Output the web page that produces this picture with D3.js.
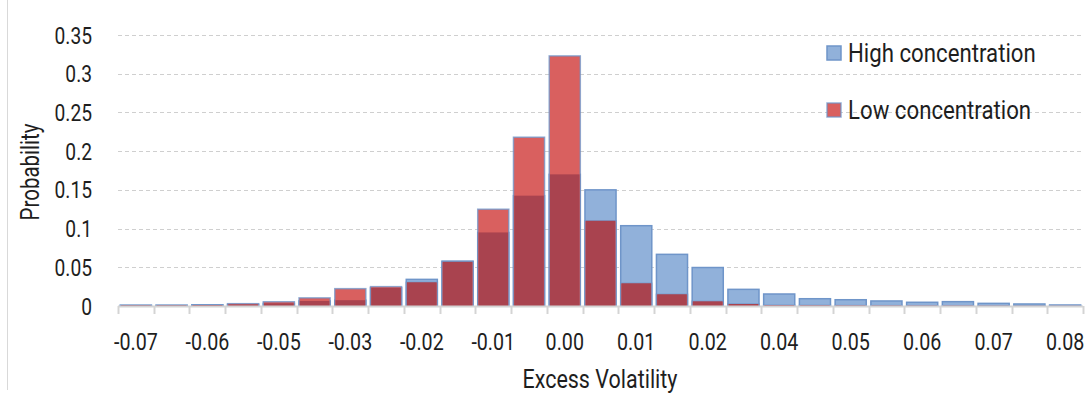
<!DOCTYPE html>
<html><head><meta charset="utf-8">
<script src="https://cdn.jsdelivr.net/npm/d3@7"></script>
<style>
body{margin:0;background:#fff;}
svg{display:block;}
text{font-family:"Roboto","Liberation Sans",sans-serif;fill:#1e1e1e;}
</style></head>
<body><svg id="c" width="1089" height="402"></svg>
<script>
const categories = ["-0.07","-0.065","-0.06","-0.055","-0.05","-0.04","-0.03","-0.025","-0.02","-0.015","-0.01","-0.005","0.00","0.005","0.01","0.015","0.02","0.03","0.04","0.045","0.05","0.055","0.06","0.065","0.07","0.075","0.08"];
const highConcentration = [0.001,0.001,0.0015,0.002,0.0035,0.0065,0.0075,0.0235,0.0344,0.058,0.095,0.1425,0.17,0.15,0.1037,0.0667,0.0497,0.0215,0.0155,0.0094,0.0081,0.0065,0.0048,0.0056,0.0034,0.0026,0.0013];
const lowConcentration = [0.0008,0.0008,0.0012,0.003,0.0055,0.0105,0.0224,0.025,0.0306,0.057,0.125,0.218,0.323,0.110,0.0293,0.0151,0.006,0.0026,0.001,0.0008,0.0006,0.0005,0.0004,0.0004,0.0003,0.0002,0.0002];
const yTicks = [0,0.05,0.1,0.15,0.2,0.25,0.3,0.35];
const yTickLabels = ["0","0.05","0.1","0.15","0.2","0.25","0.3","0.35"];
const seriesNames = ["High concentration","Low concentration"];

(function(){
const svg = d3.select("#c");
const mLeft = 118, mRight = 1083, mTop = 35, mBottom = 306;
const x = d3.scaleBand().domain(d3.range(categories.length)).range([mLeft,mRight]).paddingInner(0.13).paddingOuter(0.065);
const y = d3.scaleLinear().domain([0,0.35]).range([mBottom,mTop]);

const blueFill="#91b1da", blueStroke="#6f95c9", redFill="#d9605f", darkFill="#a9434f";

function label(parent, tx, ty, str, anchor, size, sx, rot){
  const g = parent.append("g").attr("transform",`translate(${tx},${ty})` + (rot?` rotate(${rot})`:"") + ` scale(${sx},1)`);
  g.append("text").attr("text-anchor",anchor).attr("font-size",size).text(str);
  return g;
}

svg.append("line").attr("x1",7.5).attr("x2",7.5).attr("y1",0).attr("y2",390).attr("stroke","#d9d9d9");

svg.append("g").selectAll("line").data(yTicks.filter(d=>d>0)).join("line")
  .attr("x1",mLeft).attr("x2",mRight).attr("y1",d=>Math.round(y(d))+0.5).attr("y2",d=>Math.round(y(d))+0.5)
  .attr("stroke","#cfcfcf").attr("stroke-dasharray","4,3");

const yl = svg.append("g");
yTicks.forEach((d,i)=>label(yl, 92, y(d)+8.5, yTickLabels[i], "end", 24, 0.8));

const idx = d3.range(categories.length);
svg.append("g").selectAll("rect").data(idx).join("rect")
  .attr("x",i=>x(i)).attr("width",x.bandwidth())
  .attr("y",i=>y(highConcentration[i])).attr("height",i=>mBottom-y(highConcentration[i]))
  .attr("fill",blueFill).attr("stroke",blueStroke).attr("stroke-width",1.5);
svg.append("g").selectAll("rect").data(idx).join("rect")
  .attr("x",i=>x(i)).attr("width",x.bandwidth())
  .attr("y",i=>y(lowConcentration[i])).attr("height",i=>mBottom-y(lowConcentration[i]))
  .attr("fill",redFill).attr("stroke","rgba(111,149,201,0.75)").attr("stroke-width",1.5);
svg.append("g").selectAll("rect").data(idx).join("rect")
  .attr("x",i=>x(i)+0.75).attr("width",x.bandwidth()-1.5)
  .attr("y",i=>y(Math.min(lowConcentration[i],highConcentration[i]))).attr("height",i=>Math.max(0,mBottom-y(Math.min(lowConcentration[i],highConcentration[i]))))
  .attr("fill",darkFill);

const step = x.step();
const xa = svg.append("g");
xa.append("line").attr("x1",mLeft).attr("x2",mRight).attr("y1",mBottom+0.5).attr("y2",mBottom+0.5).attr("stroke","#d4d4d4").attr("stroke-width",2);
xa.selectAll("line.t").data(d3.range(categories.length+1)).join("line").attr("class","t")
  .attr("x1",i=>Math.round(mLeft+i*step)+0.5).attr("x2",i=>Math.round(mLeft+i*step)+0.5)
  .attr("y1",mBottom).attr("y2",mBottom+8).attr("stroke","#d4d4d4").attr("stroke-width",2);
idx.filter(i=>i%2===0).forEach(i=>label(xa, x(i)+x.bandwidth()/2, 350, categories[i], "middle", 24, 0.82));

label(svg, 600, 388, "Excess Volatility", "middle", 25, 0.86);
label(svg, 39, 172, "Probability", "middle", 25, 0.82, -90);

const leg = svg.append("g");
const legColors=[blueFill,redFill];
seriesNames.forEach((n,i)=>{
  const yy = 46 + i*57;
  leg.append("rect").attr("x",827).attr("y",yy).attr("width",14).attr("height",14)
    .attr("fill",legColors[i]).attr("stroke",i===0?blueStroke:"rgba(111,149,201,0.75)").attr("stroke-width",1.5);
  label(leg, 848, yy+15.5, n, "start", 26, 0.855);
});
})();
</script></body></html>
